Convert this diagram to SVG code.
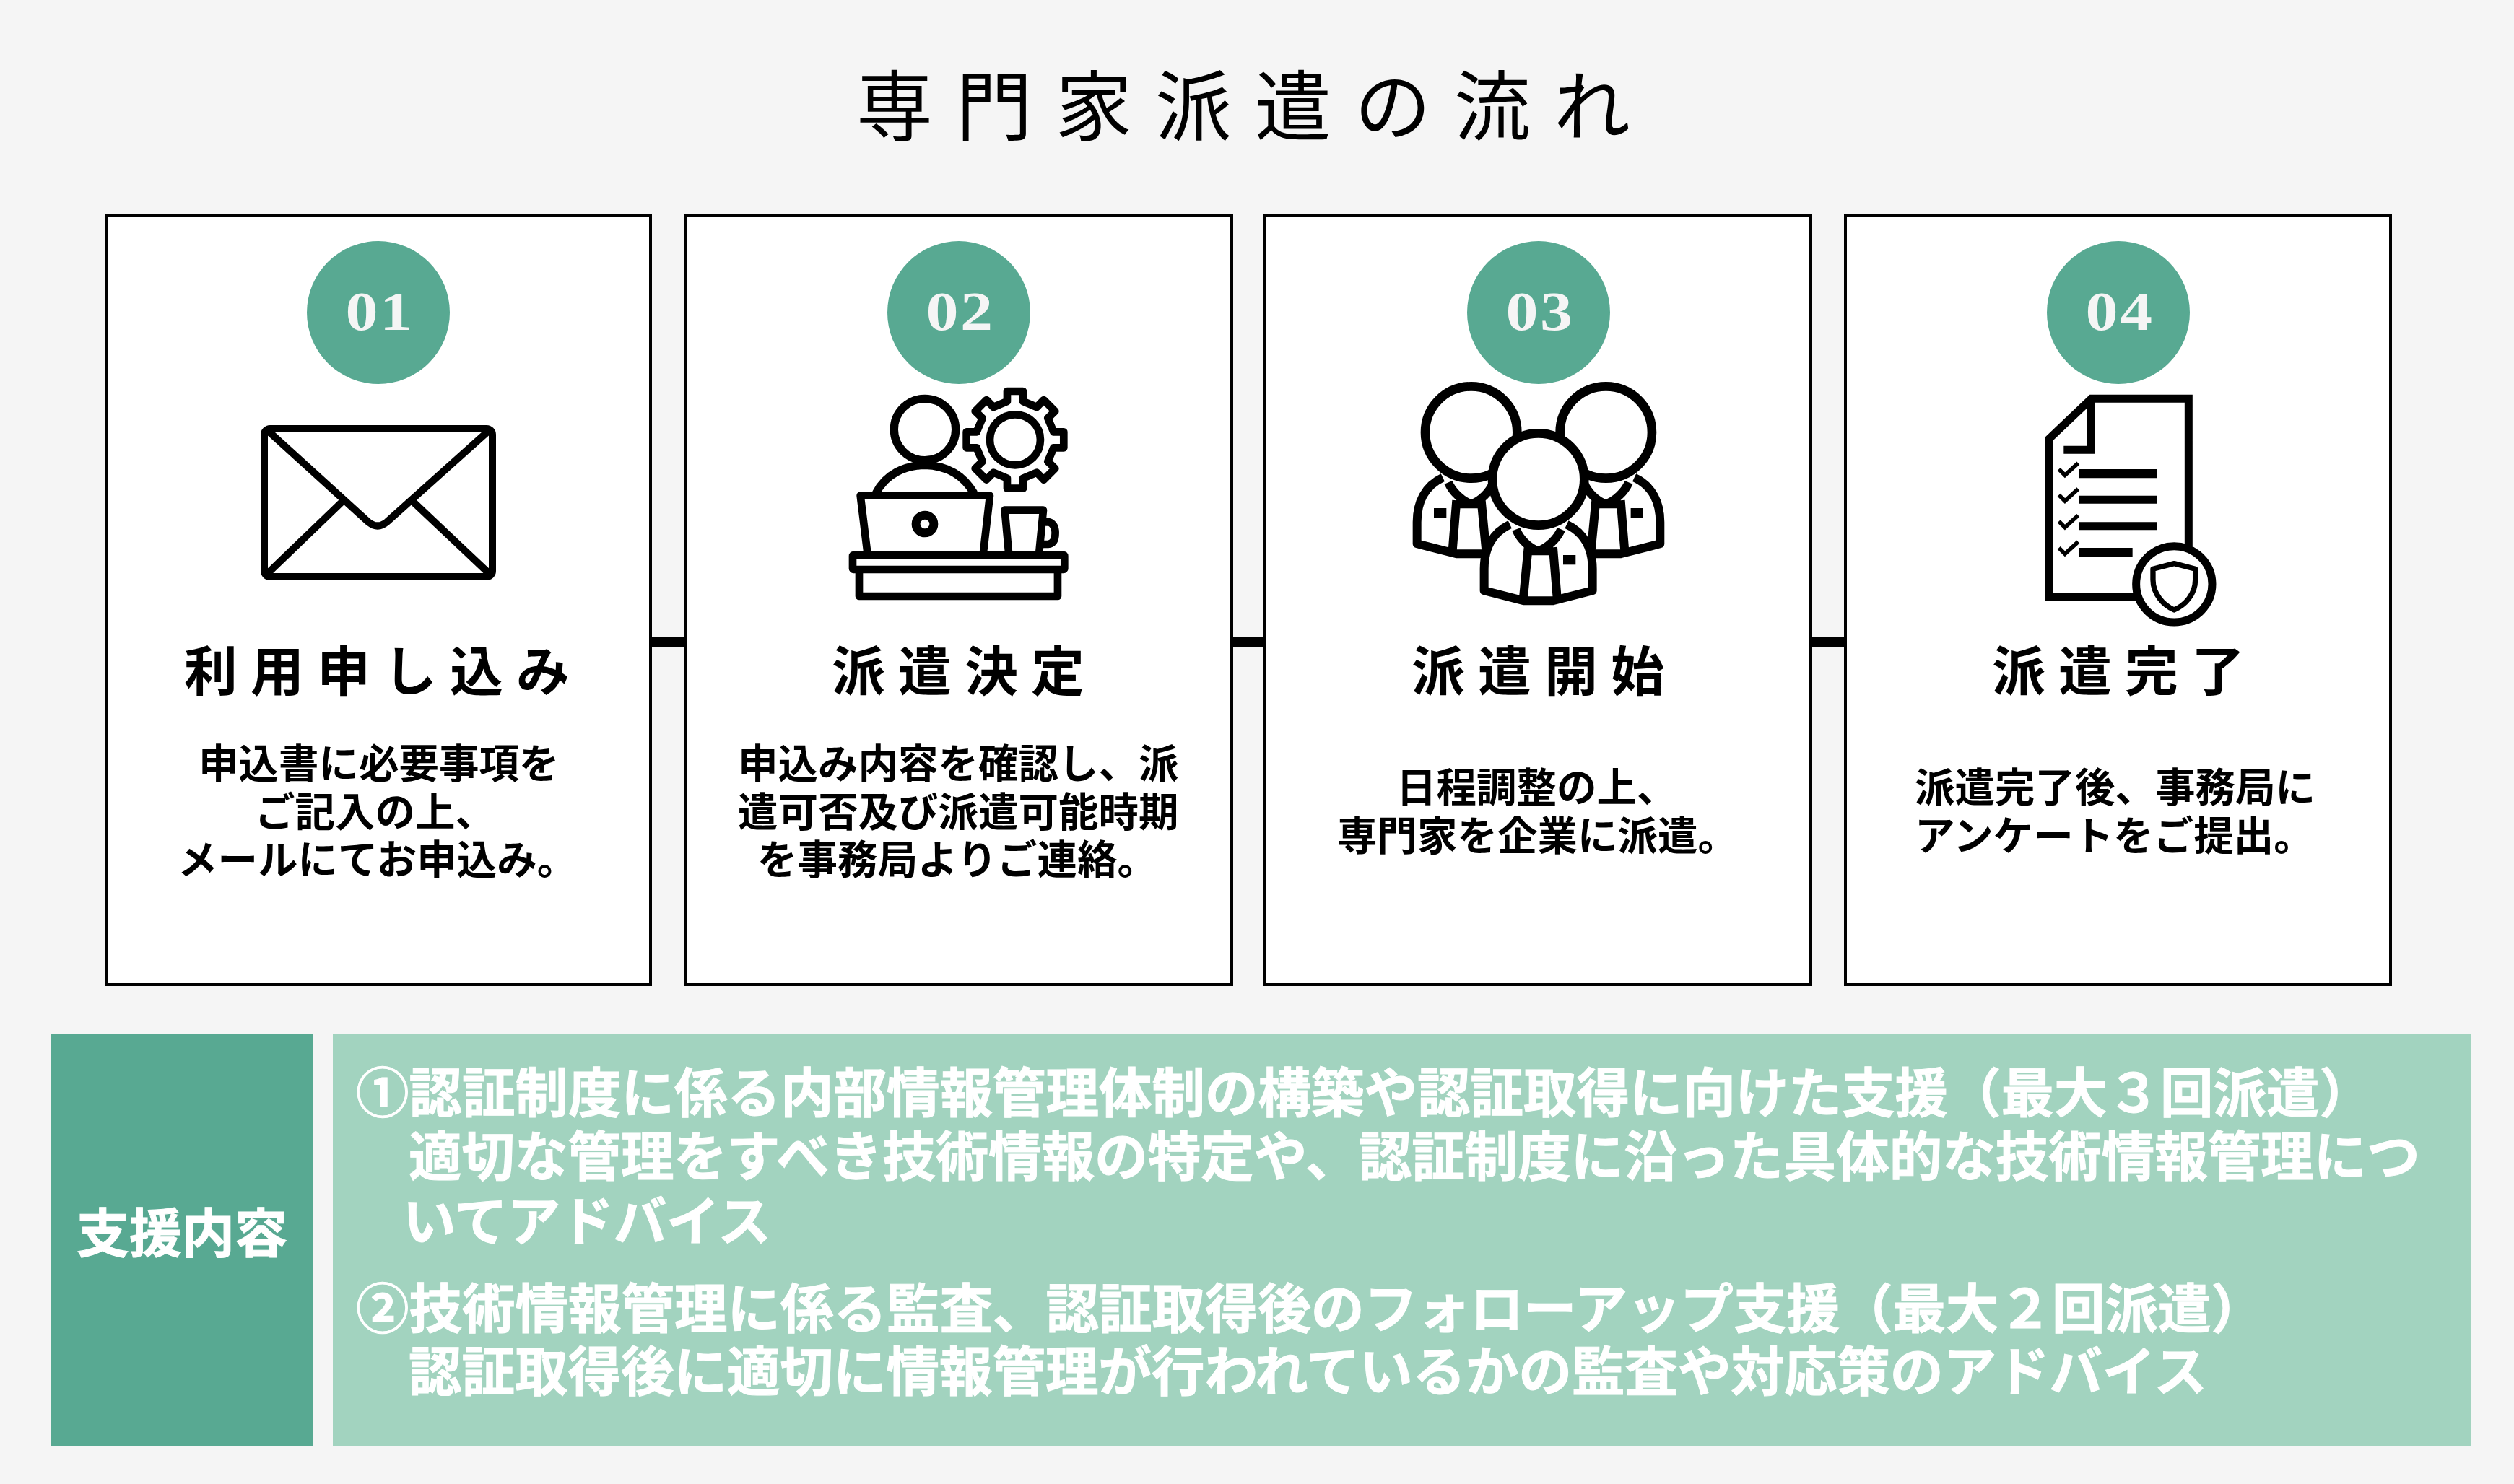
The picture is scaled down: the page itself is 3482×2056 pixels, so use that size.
<svg xmlns="http://www.w3.org/2000/svg" xmlns:xlink="http://www.w3.org/1999/xlink" width="3482" height="2056" viewBox="0 0 3482 2056">
<style>
text{font-family:"Noto Sans CJK JP","Noto Sans",sans-serif}
.card{fill:#fff;stroke:#000;stroke-width:4}
.dot{fill:#58a992}
.num{font-family:"Liberation Serif",serif;font-size:77px;font-weight:700;fill:#f5f5f5;letter-spacing:2px;text-anchor:middle}
.ttl{font-size:74px;font-weight:700;fill:#000;letter-spacing:18px;text-anchor:middle}
.body{font-size:55.5px;font-weight:700;fill:#000}
.sup{font-size:73.5px;font-weight:700;fill:#fff;stroke:#fff;stroke-width:1}
.ic{fill:none;stroke:#000;stroke-linejoin:round;stroke-linecap:butt}
.w{fill:#fff}
.bar{stroke:#000;stroke-width:15;fill:none}
</style>
<defs>
<g id="person">
<path class="w" d="M205 455C130 490 98 560 98 640V730L262 772H384L548 730V640C548 560 516 490 441 455Z"/>
<path class="ic" stroke-width="36" d="M205 455C130 490 98 560 98 640V730L262 772H384L548 730V640C548 560 516 490 441 455"/>
<path class="ic" stroke-width="36" d="M228 475C245 515 285 552 323 565C362 552 400 515 415 475M262 550L245 760M365 550L385 760M262 565H365"/>
<path class="ic" stroke-width="40" stroke-linecap="round" d="M168 602H220"/>
<circle class="ic w" stroke-width="38" cx="323" cy="267" r="191"/>
</g>
</defs>
<rect width="3482" height="2056" fill="#f5f5f5"/>
<text id="title" x="1186" y="186" font-size="106" fill="#000" style="font-weight:400" letter-spacing="32">専門家派遣の流れ</text>
<g id="connectors">
<path class="bar" d="M901 889.5H949M1706 889.5H1752M2508 889.5H2556"/>
</g>
<g id="step1">
<rect class="card" x="147" y="298" width="754" height="1066"/>
<circle class="dot" cx="524" cy="433" r="99"/>
<text class="num" transform="translate(526 457) scale(1.17 1)" x="0" y="0">01</text>
<rect class="ic" stroke-width="10" x="366" y="594" width="316" height="205" rx="8"/>
<path class="ic" stroke-width="10" d="M368 594L510 723Q523 734 536 723L680 594M474 695L368 797M572 695L680 797"/>
<text class="ttl" x="531" y="957">利用申し込み</text>
<text class="body" x="275" y="1078">申込書に必要事項を</text>
<text class="body" x="353" y="1145">ご記入の上、</text>
<text class="body" x="246" y="1211">メールにてお申込み。</text>
</g>
<g id="step2">
<rect class="card" x="949" y="298" width="757" height="1066"/>
<circle class="dot" cx="1328" cy="433" r="99"/>
<text class="num" transform="translate(1330 457) scale(1.17 1)" x="0" y="0">02</text>
<g transform="translate(1150 510) scale(.3333)">
<circle class="ic" stroke-width="34" cx="393" cy="255" r="128"/>
<path class="ic" stroke-width="34" d="M190 520C230 440 310 405 393 403C480 405 550 440 597 520"/>
<path class="ic" stroke-width="32" transform="translate(768 298)" d="M-33-160V-202H33V-160L90-136 119-166 166-119 136-90 160-33H202V33H160L136 90 166 119 119 166 90 136 33 160V202H-33V160L-90 136-119 166-166 119-136 90-160 33H-202V-33H-160L-136-90-166-119-119-166-90-136Z"/>
<circle class="ic" stroke-width="32" cx="768" cy="298" r="105"/>
<path class="ic" stroke-width="32" d="M155 775L125 530H663L635 775"/>
<circle class="ic" stroke-width="36" cx="393" cy="648" r="37"/>
<path class="ic" stroke-width="32" d="M742 775L725 590H885L867 775M895 640H910Q935 650 935 685Q935 730 905 732H880"/>
<rect class="ic" stroke-width="32" x="93" y="777" width="880" height="60" rx="4"/>
<path class="ic" stroke-width="32" d="M120 837V948H945V837"/>
</g>
<text class="ttl" x="1336" y="957">派遣決定</text>
<text class="body" x="1022" y="1078">申込み内容を確認し、派</text>
<text class="body" x="1022" y="1145">遣可否及び派遣可能時期</text>
<text class="body" x="1049" y="1211">を事務局よりご連絡。</text>
</g>
<g id="step3">
<rect class="card" x="1752" y="298" width="756" height="1066"/>
<circle class="dot" cx="2131" cy="433" r="99"/>
<text class="num" transform="translate(2133 457) scale(1.17 1)" x="0" y="0">03</text>
<g transform="translate(1930 510) scale(.3333)">
<use xlink:href="#person" href="#person"/>
<use xlink:href="#person" href="#person" transform="translate(1206 0) scale(-1 1)"/>
<use xlink:href="#person" href="#person" transform="translate(925 195) scale(-1 1)"/>
</g>
<text class="ttl" x="2139" y="957">派遣開始</text>
<text class="body" x="1934" y="1111">日程調整の上、</text>
<text class="body" x="1852" y="1178">専門家を企業に派遣。</text>
</g>
<g id="step4">
<rect class="card" x="2556" y="298" width="755" height="1066"/>
<circle class="dot" cx="2934" cy="433" r="99"/>
<text class="num" transform="translate(2936 457) scale(1.17 1)" x="0" y="0">04</text>
<g transform="translate(2800 520) scale(.3333)">
<path class="ic" stroke-width="33" style="stroke-linejoin:miter" d="M694 710V97H290L113 265V920H480M288 97V310H175"/>
<path fill="#000" d="M240 390H562V427H240ZM240 500H562V533H240ZM240 610H562V643H240ZM240 717H461V753H240Z"/>
<path class="ic" stroke-width="17" d="M155 390L180 415L235 365M155 497L180 522L235 472M155 607L180 632L235 582M155 717L180 742L235 692" style="stroke-linejoin:miter"/>
<circle class="ic w" stroke-width="33" cx="634" cy="868" r="158"/>
<path class="ic" stroke-width="22" d="M546 805L634 782L722 805V850C722 910 680 955 634 975C590 955 546 910 546 850Z"/>
</g>
<text class="ttl" x="2943" y="957">派遣完了</text>
<text class="body" x="2652" y="1111">派遣完了後、事務局に</text>
<text class="body" x="2652" y="1178">アンケートをご提出。</text>
</g>
<g id="support-label">
<rect class="dot" x="71" y="1433" width="363" height="571"/>
<text class="sup" x="106" y="1735" style="font-size:73px">支援内容</text>
</g>
<g id="support-body">
<rect x="461" y="1433" width="2962" height="571" fill="#a2d3bf"/>
<text class="sup" x="493" y="1541">①認証制度に係る内部情報管理体制の構築や認証取得に向けた支援（最大３回派遣）</text>
<text class="sup" x="566" y="1629">適切な管理をすべき技術情報の特定や、認証制度に沿った具体的な技術情報管理につ</text>
<text class="sup" x="558" y="1719">いてアドバイス</text>
<text class="sup" x="493" y="1840">②技術情報管理に係る監査、認証取得後のフォローアップ支援（最大２回派遣）</text>
<text class="sup" x="566" y="1927">認証取得後に適切に情報管理が行われているかの監査や対応策のアドバイス</text>
</g>
</svg>
